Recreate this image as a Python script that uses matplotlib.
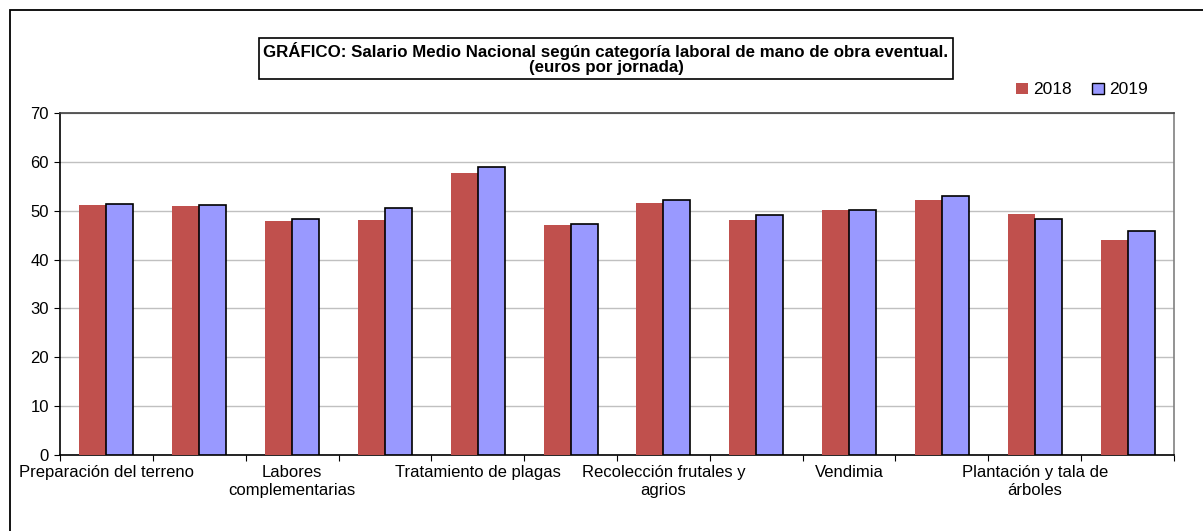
import matplotlib
matplotlib.use("Agg")
import matplotlib.pyplot as plt
from matplotlib.patches import Rectangle, Patch
import numpy as np

plt.rcParams['font.family'] = ['Liberation Sans', 'DejaVu Sans']

categories = [
    "Preparación del terreno", "Siembra y abonado", "Labores\ncomplementarias", "Riegos",
    "Tratamiento de plagas", "Recolección productos herbáceos", "Recolección frutales y\nagrios",
    "Recolección de aceituna", "Vendimia", "Poda", "Plantación y tala de\nárboles", "Pastoreo",
]
values_2018 = [51.2, 51.0, 47.8, 48.1, 57.7, 47.0, 51.5, 48.0, 50.2, 52.2, 49.4, 44.1]
values_2019 = [51.4, 51.1, 48.4, 50.6, 59.0, 47.3, 52.2, 49.1, 50.1, 53.1, 48.4, 45.9]
series_names = ["2018", "2019"]
yticks = [0, 10, 20, 30, 40, 50, 60, 70]
title = "GRÁFICO: Salario Medio Nacional según categoría laboral de mano de obra eventual.\n(euros por jornada)"

W, H = 1203, 531
fig = plt.figure(figsize=(W / 100, H / 100), dpi=100)

# outer frame (extends beyond right/bottom edges)
fig.patches.append(Rectangle((10 / W, -0.1), 1.2, 1 - 10 / H + 0.1, transform=fig.transFigure,
                             fill=False, edgecolor='black', linewidth=1.3))

ax = fig.add_axes([60 / W, 1 - 455 / H, (1174 - 60) / W, (455 - 113) / H])
x = np.arange(len(categories))
bw = 0.29
ax.bar(x - bw / 2, values_2018, bw, color='#C0504D', edgecolor='none', zorder=3, label=series_names[0])
ax.bar(x + bw / 2, values_2019, bw, color='#9999FF', edgecolor='black', linewidth=1.2, zorder=3,
       label=series_names[1])

ax.set_xlim(-0.5, len(categories) - 0.5)
ax.set_ylim(0, 70)
ax.set_yticks(yticks)
ax.yaxis.grid(True, color='#C0C0C0', linewidth=1, zorder=0)
ax.tick_params(axis='y', labelsize=12, length=4, direction='out', color='black', pad=4)

ax.set_xticks(np.arange(-0.5, len(categories), 1.0))
ax.tick_params(axis='x', length=4, direction='out', color='black', labelbottom=False)
for i, c in enumerate(categories):
    if i % 2 == 0:
        ax.text(i, -2.0, c, ha='center', va='top', fontsize=12, linespacing=1.3)

for s in ['left', 'bottom']:
    ax.spines[s].set_color('black')
    ax.spines[s].set_linewidth(1.2)
ax.spines['top'].set_color('#404040')
ax.spines['top'].set_linewidth(1.2)
ax.spines['right'].set_color('#808080')
ax.spines['right'].set_linewidth(1.2)

# title box
fig.text((259 + 953) / 2 / W, 1 - 58.5 / H, title, ha='center', va='center', fontsize=12.2,
         fontweight='bold', linespacing=1.0,
         bbox=dict(boxstyle='square,pad=0.25', facecolor='white', edgecolor='black', linewidth=1.2))

handles = [Patch(facecolor='#C0504D', edgecolor='none'), Patch(facecolor='#9999FF', edgecolor='black')]
fig.legend(handles, series_names, loc='center', bbox_to_anchor=(1082 / W, 1 - 90 / H), ncol=2,
           frameon=False, fontsize=12.5, handlelength=0.65, handleheight=0.65, handletextpad=0.3,
           columnspacing=1.2)

fig.savefig("out.png", dpi=100)
